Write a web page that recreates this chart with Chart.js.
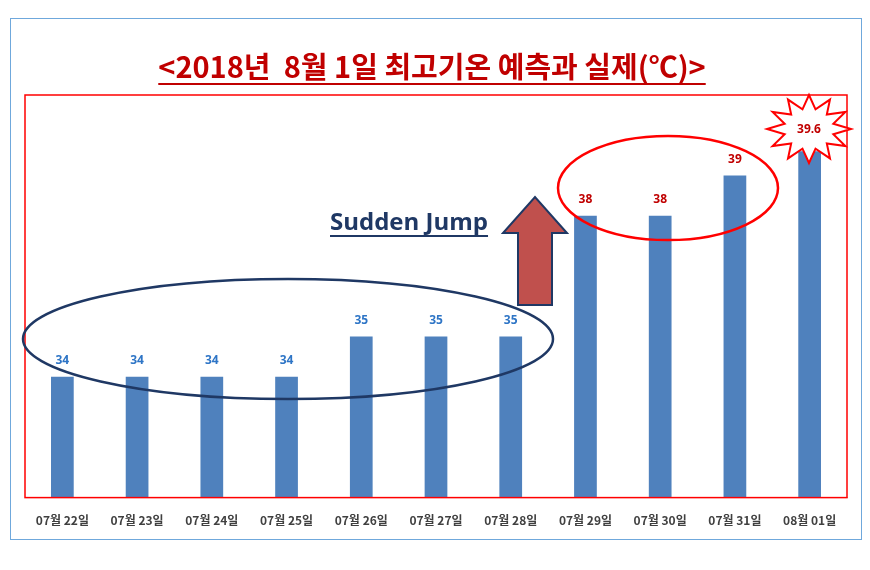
<!DOCTYPE html>
<html>
<head>
<meta charset="utf-8">
<script src="https://cdn.jsdelivr.net/npm/chart.js@4"></script>
<style>
  body { margin: 0; background: #fff; }
  #wrap { position: relative; width: 870px; height: 570px; }
  #frame { position: absolute; left: 10px; top: 18px; width: 850px; height: 520px; border: 1px solid #6fa8dc; }
  canvas { position: absolute; left: 0; top: 0; }
</style>
</head>
<body>
<div id="wrap">
  <div id="frame"></div>
  <canvas id="chart" width="870" height="570"></canvas>
</div>
<script>
// 8월 1일 최고기온 예측과 실제
const days = ['07월 22일', '07월 23일', '07월 24일', '07월 25일', '07월 26일', '07월 27일',
  '07월 28일', '07월 29일', '07월 30일', '07월 31일', '08월 01일'];
const temps = [34, 34, 34, 34, 35, 35, 35, 38, 38, 39, 39.6];
const labelColors = ['#2e75c6', '#2e75c6', '#2e75c6', '#2e75c6', '#2e75c6', '#2e75c6', '#2e75c6',
  '#c00000', '#c00000', '#c00000', '#c00000'];

const titleText = '<2018년  8월 1일 최고기온 예측과 실제(℃)>';

const extras = {
  id: 'extras',
  afterDatasetsDraw(chart) {
    const { ctx, chartArea: a, scales: { x, y } } = chart;
    ctx.save();

    // title
    ctx.font = 'bold 29px "Noto Sans CJK KR", sans-serif';
    ctx.fillStyle = '#c00000';
    ctx.textAlign = 'center';
    ctx.textBaseline = 'alphabetic';
    ctx.fillText(titleText, 432, 78);
    const tw = ctx.measureText(titleText).width;
    ctx.fillRect(432 - tw / 2, 83, tw, 2);

    // red box
    ctx.strokeStyle = '#ff0000';
    ctx.lineWidth = 1.5;
    ctx.strokeRect(a.left, a.top, a.right - a.left, a.bottom - a.top);

    // value labels
    ctx.font = 'bold 12px "Noto Sans", sans-serif';
    ctx.textBaseline = 'bottom';
    temps.forEach((v, i) => {
      if (i === temps.length - 1) return;
      ctx.fillStyle = labelColors[i];
      ctx.fillText(String(v), x.getPixelForValue(i), y.getPixelForValue(v) - 10);
    });

    // blue ellipse
    ctx.strokeStyle = '#1f3864';
    ctx.lineWidth = 2.5;
    ctx.beginPath();
    ctx.ellipse(288, 339, 265, 60, 0, 0, Math.PI * 2);
    ctx.stroke();

    // red ellipse
    ctx.strokeStyle = '#ff0000';
    ctx.beginPath();
    ctx.ellipse(668, 188, 110, 52, 0, 0, Math.PI * 2);
    ctx.stroke();

    // arrow
    ctx.fillStyle = '#c0504d';
    ctx.strokeStyle = '#1f3864';
    ctx.lineWidth = 2;
    ctx.beginPath();
    ctx.moveTo(518, 305); ctx.lineTo(518, 233); ctx.lineTo(503, 233);
    ctx.lineTo(535, 197); ctx.lineTo(567, 233); ctx.lineTo(552, 233);
    ctx.lineTo(552, 305); ctx.closePath();
    ctx.fill(); ctx.stroke();

    // Sudden Jump
    ctx.font = 'bold 24px "Open Sans", sans-serif';
    ctx.fillStyle = '#1f3864';
    ctx.textAlign = 'left';
    ctx.textBaseline = 'alphabetic';
    ctx.fillText('Sudden Jump', 330, 230);
    const sw = ctx.measureText('Sudden Jump').width;
    ctx.fillRect(330, 235, sw, 2);

    // starburst
    const cx = 809, cy = 129, n = 12;
    ctx.beginPath();
    for (let k = 0; k < n * 2; k++) {
      const r = k % 2 === 0 ? 40 : 24;
      const ang = -Math.PI / 2 + k * Math.PI / n;
      const px = cx + r * Math.cos(ang) * 1.05, py = cy + r * Math.sin(ang) * 0.85;
      k === 0 ? ctx.moveTo(px, py) : ctx.lineTo(px, py);
    }
    ctx.closePath();
    ctx.fillStyle = '#fff';
    ctx.fill();
    ctx.strokeStyle = '#ff0000';
    ctx.lineWidth = 2;
    ctx.stroke();
    ctx.font = 'bold 12px "Noto Sans", sans-serif';
    ctx.fillStyle = '#c00000';
    ctx.textAlign = 'center';
    ctx.textBaseline = 'middle';
    ctx.fillText('39.6', cx, cy + 1);

    ctx.restore();
  }
};

new Chart(document.getElementById('chart'), {
  type: 'bar',
  data: {
    labels: days,
    datasets: [{
      data: temps,
      backgroundColor: '#4f81bd',
      barPercentage: 0.32,
      categoryPercentage: 0.95
    }]
  },
  options: {
    responsive: false,
    animation: false,
    layout: { padding: { left: 25, right: 23, top: 95, bottom: 34 } },
    plugins: { legend: { display: false }, tooltip: { enabled: false } },
    scales: {
      x: {
        grid: { display: false },
        border: { color: '#bfbfbf' },
        ticks: { color: '#404040', font: { size: 12, weight: 'bold', family: '"Noto Sans CJK KR", sans-serif' }, padding: 8, maxRotation: 0 }
      },
      y: { display: false, min: 31, max: 41 }
    }
  },
  plugins: [extras]
});
</script>
</body>
</html>
